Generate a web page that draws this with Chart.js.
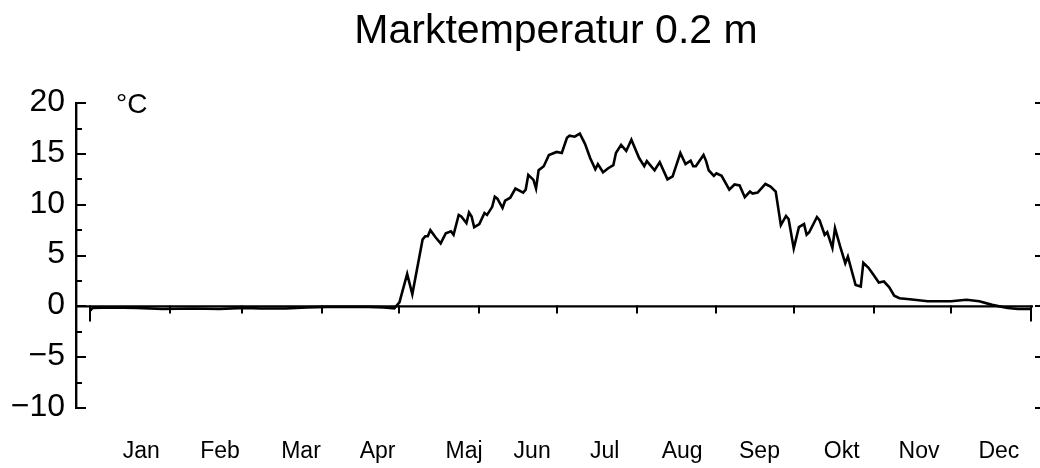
<!DOCTYPE html>
<html>
<head>
<meta charset="utf-8">
<script src="https://cdn.jsdelivr.net/npm/chart.js@4.4.1/dist/chart.umd.min.js"></script>
<style>
  body { margin: 0; background: #fff; }
</style>
</head>
<body>
<canvas id="tempChart" width="1040" height="468"></canvas>
<script>
// Marktemperatur 0.2 m - daily soil temperature, day of year (0 = 1 Jan)

const days = [
    0, 1, 8, 18, 28, 40, 50, 60, 66, 76, 84, 92, 100, 108, 114, 118,
    120, 123, 125, 127, 129, 130, 131, 132, 134, 136, 138, 140, 141, 143, 144, 146,
    147, 148, 149, 151, 153, 154, 156, 157, 158, 160, 161, 163, 165, 168, 169, 170,
    172, 173, 174, 176, 178, 181, 183, 185, 186, 188, 190, 192, 194, 196, 197, 199,
    201, 203, 204, 206, 208, 210, 213, 215, 216, 219, 221, 224, 226, 229, 231, 233,
    234, 235, 238, 239, 240, 242, 243, 245, 248, 250, 252, 254, 256, 257, 259, 262,
    264, 266, 268, 270, 271, 273, 275, 277, 278, 279, 282, 283, 285, 286, 288, 289,
    291, 293, 294, 297, 299, 300, 302, 304, 306, 308, 310, 312, 314, 318, 325, 334,
    340, 345, 350, 356, 360, 365
];

const temps = [
    -0.4, -0.15, -0.1, -0.15, -0.25, -0.2, -0.25, -0.15, -0.2, -0.2, -0.1, -0.05, -0.05, -0.05, -0.1, -0.2,
    0.4, 3.2, 1.2, 3.9, 6.6, 6.9, 6.9, 7.5, 6.8, 6.2, 7.2, 7.4, 7.05, 9.0, 8.85, 8.2,
    9.25, 8.85, 7.8, 8.1, 9.2, 9.0, 9.8, 10.8, 10.6, 9.7, 10.4, 10.7, 11.6, 11.2, 11.5, 12.95,
    12.45, 11.6, 13.4, 13.8, 14.9, 15.2, 15.1, 16.6, 16.8, 16.7, 17.0, 16.0, 14.6, 13.5, 14.0, 13.2,
    13.6, 13.9, 15.1, 15.9, 15.3, 16.4, 14.6, 13.8, 14.3, 13.4, 14.2, 12.5, 12.8, 15.1, 14.0, 14.35,
    13.8, 13.8, 14.9, 14.3, 13.4, 12.85, 13.1, 12.85, 11.5, 12.0, 11.9, 10.75, 11.3, 11.1, 11.2, 12.05,
    11.8, 11.3, 8.0, 8.9, 8.6, 5.7, 7.8, 8.1, 7.05, 7.3, 8.8, 8.5, 7.05, 7.3, 5.75, 7.7,
    5.9, 4.25, 4.9, 2.1, 1.95, 4.3, 3.8, 3.1, 2.35, 2.45, 1.9, 1.05, 0.8, 0.7, 0.5, 0.5,
    0.65, 0.5, 0.15, -0.15, -0.25, -0.25
];

const months = ['Jan', 'Feb', 'Mar', 'Apr', 'Maj', 'Jun', 'Jul', 'Aug', 'Sep', 'Okt', 'Nov', 'Dec'];
const monthLabelDays = [19.8, 50.4, 81.8, 111.5, 145.1, 171.5, 199.6, 229.7, 259.7, 291.6, 321.6, 352.6];
const monthStarts = [0, 31, 59, 90, 120, 151, 181, 212, 243, 273, 304, 334, 365];
const yTicks = [-10, -5, 0, 5, 10, 15, 20];

const axisFont = "'Liberation Sans', Arial, sans-serif";

// zero line, month ticks, inner y ticks and the unit label
const frame = {
    id: 'frame',
    afterDatasetsDraw(chart) {
        const {ctx, chartArea: area, scales: {x, y}} = chart;
        const y0 = y.getPixelForValue(0);
        ctx.save();
        ctx.strokeStyle = '#000';
        ctx.lineWidth = 2.4;
        ctx.beginPath();
        ctx.moveTo(area.left, y0);
        ctx.lineTo(area.right - 3, y0);
        ctx.stroke();

        ctx.lineWidth = 2;
        ctx.beginPath();
        monthStarts.forEach((d, i) => {
            const px = Math.round(x.getPixelForValue(d));
            const len = (i === 0 || i === monthStarts.length - 1) ? 15 : 7;
            ctx.moveTo(px, y0 - 1);
            ctx.lineTo(px, y0 + len);
        });
        yTicks.forEach((v, i) => {
            const py = Math.round(y.getPixelForValue(v));
            ctx.moveTo(area.left, py);
            ctx.lineTo(area.left + 10, py);
            ctx.moveTo(area.right - 1, py);
            ctx.lineTo(area.right + 4, py);
            if (i < yTicks.length - 1) {
                const pm = Math.round(y.getPixelForValue(v + 2.5));
                ctx.moveTo(area.left, pm);
                ctx.lineTo(area.left + 6, pm);
            }
        });
        ctx.stroke();

        ctx.fillStyle = '#000';
        ctx.font = '28px ' + axisFont;
        ctx.textAlign = 'left';
        ctx.textBaseline = 'alphabetic';
        ctx.fillText('°C', area.left + 40, area.top + 10);
        ctx.restore();
    }
};

new Chart(document.getElementById('tempChart'), {
    type: 'line',
    data: {
        datasets: [{
            data: days.map((d, i) => ({x: d, y: temps[i]})),
            borderColor: '#000',
            borderWidth: 2.6,
            pointRadius: 0,
            tension: 0,
            fill: false,
        }]
    },
    options: {
        responsive: false,
        animation: false,
        layout: {
            padding: {left: 0, right: 4, top: 0, bottom: 0}
        },
        plugins: {
            legend: {display: false},
            tooltip: {enabled: false},
            title: {
                display: true,
                text: 'Marktemperatur 0.2 m',
                fullSize: false,
                color: '#000',
                font: {family: axisFont, size: 41, weight: 'normal'},
                padding: {top: 7, bottom: 47},
            },
        },
        scales: {
            x: {
                type: 'linear',
                min: -5.5,
                max: 367,
                grid: {display: false, drawTicks: false},
                border: {display: false},
                afterBuildTicks: (scale) => {
                    scale.ticks = monthLabelDays.map(v => ({value: v}));
                },
                afterFit: (scale) => {
                    scale.height = 60;
                    scale.paddingLeft = 0;
                    scale.paddingRight = 0;
                },
                ticks: {
                    autoSkip: false,
                    maxRotation: 0,
                    padding: 30,
                    color: '#000',
                    font: {family: axisFont, size: 23},
                    callback: (value, index) => months[index],
                },
            },
            y: {
                min: -10,
                max: 20,
                grid: {display: false, drawTicks: false},
                border: {display: true, color: '#000', width: 2.4},
                afterBuildTicks: (scale) => {
                    scale.ticks = yTicks.map(v => ({value: v}));
                },
                afterFit: (scale) => { scale.width = 76; },
                ticks: {
                    padding: 11,
                    labelOffset: -1,
                    color: '#000',
                    font: {family: axisFont, size: 32},
                    callback: (value) => value < 0 ? '\u2212' + Math.abs(value) : String(value),
                },
            },
        },
    },
    plugins: [frame],
});
</script>
</body>
</html>
